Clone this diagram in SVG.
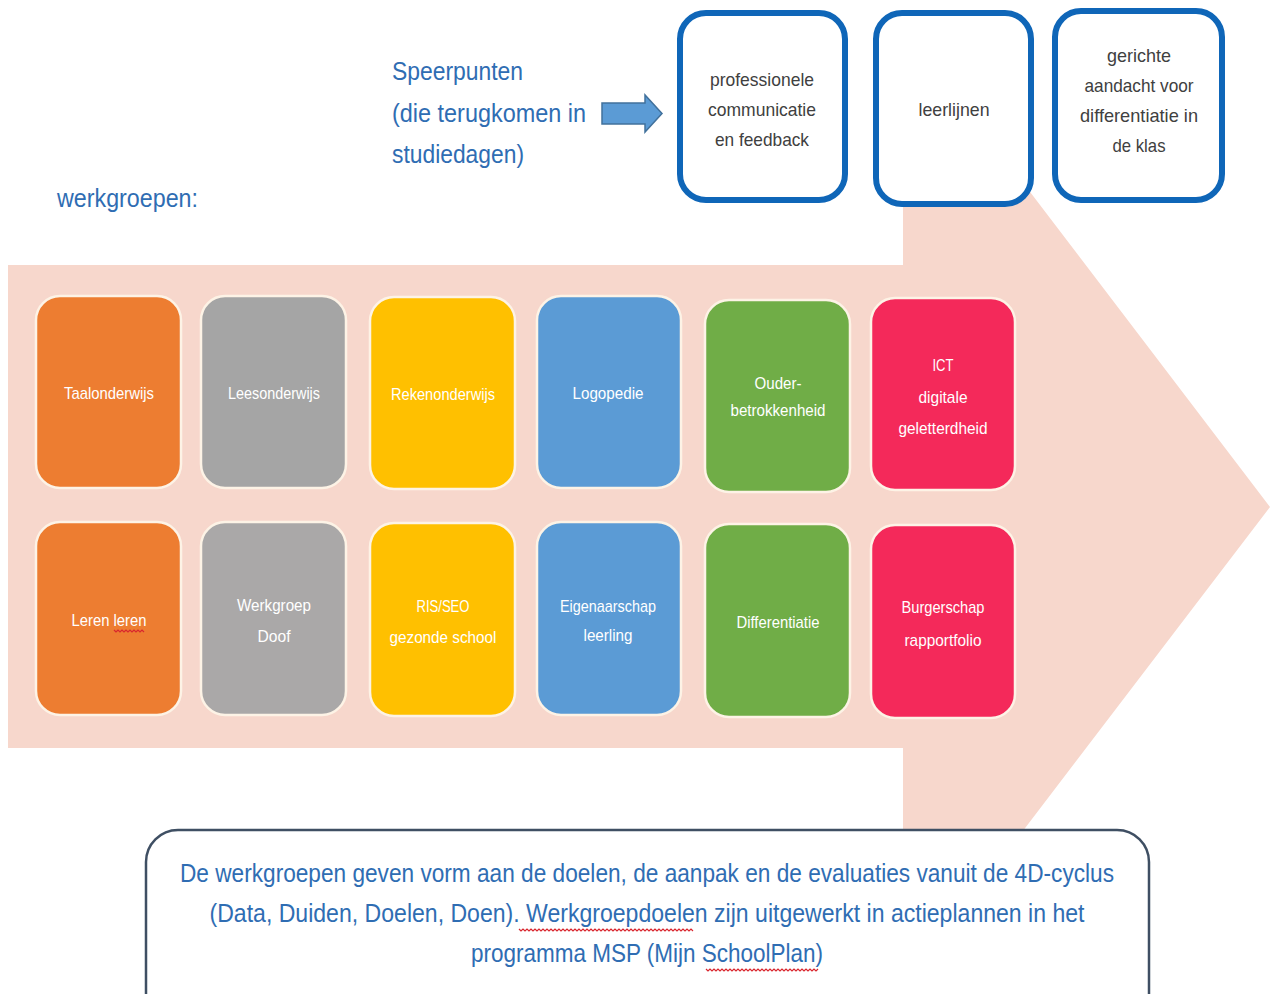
<svg xmlns="http://www.w3.org/2000/svg" width="1271" height="994" viewBox="0 0 1271 994">
<style>
.blue{font-family:"Liberation Sans",Arial,sans-serif;fill:#2f6db3;}
.big{font-size:26px;}
.top{font-family:"Liberation Sans",Arial,sans-serif;font-size:19px;fill:#404040;text-anchor:middle;}
.wg{font-family:"Liberation Sans",Arial,sans-serif;font-size:17px;fill:#ffffff;text-anchor:middle;}
.sp{fill:#ffffff;stroke:#0f66b8;stroke-width:6;}
.card{stroke:#fdf3e6;stroke-width:2.5;}
.wavy{fill:none;stroke:#d9262e;stroke-width:1.2;}
</style>
<rect width="1271" height="994" fill="#ffffff"/>
<polygon points="8,265 903,265 903,25 1270,507 903,988 903,748 8,748" fill="#f7d7cc"/>

<g id="title-speerpunten">
<text class="blue big" x="392" y="80" textLength="131" lengthAdjust="spacingAndGlyphs">Speerpunten</text>
<text class="blue big" x="392" y="122" textLength="194" lengthAdjust="spacingAndGlyphs">(die terugkomen in</text>
<text class="blue big" x="392" y="163" textLength="132" lengthAdjust="spacingAndGlyphs">studiedagen)</text>
</g>
<g id="title-werkgroepen">
<text class="blue big" x="57" y="207" textLength="141" lengthAdjust="spacingAndGlyphs">werkgroepen:</text>
</g>

<g id="connectors">
<polygon points="602,103 645,103 645,95 662,113.5 645,132 645,124 602,124" fill="#5b9bd5" stroke="#41719c" stroke-width="1.5"/>
</g>

<g id="sp1">
<rect class="sp" x="680" y="13" width="165" height="187" rx="26"/>
<text class="top" x="762" y="86" textLength="104" lengthAdjust="spacingAndGlyphs">professionele</text>
<text class="top" x="762" y="116" textLength="108" lengthAdjust="spacingAndGlyphs">communicatie</text>
<text class="top" x="762" y="146" textLength="94" lengthAdjust="spacingAndGlyphs">en feedback</text>
</g>
<g id="sp2">
<rect class="sp" x="876" y="13" width="155" height="191" rx="26"/>
<text class="top" x="954" y="116" textLength="71" lengthAdjust="spacingAndGlyphs">leerlijnen</text>
</g>
<g id="sp3">
<rect class="sp" x="1055" y="11" width="167" height="189" rx="26"/>
<text class="top" x="1139" y="62" textLength="64" lengthAdjust="spacingAndGlyphs">gerichte</text>
<text class="top" x="1139" y="92" textLength="109" lengthAdjust="spacingAndGlyphs">aandacht voor</text>
<text class="top" x="1139" y="122" textLength="118" lengthAdjust="spacingAndGlyphs">differentiatie in</text>
<text class="top" x="1139" y="152" textLength="53" lengthAdjust="spacingAndGlyphs">de klas</text>
</g>

<g id="wg-taalonderwijs">
<rect class="card" x="36" y="296" width="145" height="192" rx="24" fill="#ed7d31"/>
<text class="wg" x="109" y="399" textLength="90" lengthAdjust="spacingAndGlyphs">Taalonderwijs</text>
</g>
<g id="wg-leesonderwijs">
<rect class="card" x="201" y="296" width="145" height="192" rx="24" fill="#a5a5a5"/>
<text class="wg" x="274" y="399" textLength="92" lengthAdjust="spacingAndGlyphs">Leesonderwijs</text>
</g>
<g id="wg-rekenonderwijs">
<rect class="card" x="370" y="297" width="145" height="192" rx="24" fill="#ffc000"/>
<text class="wg" x="443" y="400" textLength="104" lengthAdjust="spacingAndGlyphs">Rekenonderwijs</text>
</g>
<g id="wg-logopedie">
<rect class="card" x="537" y="296" width="144" height="192" rx="24" fill="#5b9bd5"/>
<text class="wg" x="608" y="399" textLength="71" lengthAdjust="spacingAndGlyphs">Logopedie</text>
</g>
<g id="wg-ouder">
<rect class="card" x="705" y="300" width="145" height="192" rx="24" fill="#70ad47"/>
<text class="wg" x="778" y="389" textLength="47" lengthAdjust="spacingAndGlyphs">Ouder-</text>
<text class="wg" x="778" y="416" textLength="95" lengthAdjust="spacingAndGlyphs">betrokkenheid</text>
</g>
<g id="wg-ict">
<rect class="card" x="871" y="298" width="144" height="192" rx="24" fill="#f4295a"/>
<text class="wg" x="943" y="371" textLength="21" lengthAdjust="spacingAndGlyphs">ICT</text>
<text class="wg" x="943" y="403" textLength="49" lengthAdjust="spacingAndGlyphs">digitale</text>
<text class="wg" x="943" y="434" textLength="89" lengthAdjust="spacingAndGlyphs">geletterdheid</text>
</g>

<g id="wg-leren">
<rect class="card" x="36" y="522" width="145" height="193" rx="24" fill="#ed7d31"/>
<text class="wg" x="109" y="626" textLength="75" lengthAdjust="spacingAndGlyphs">Leren leren</text>
<path class="wavy" d="M114,630 l2,2 l2,-2 l2,2 l2,-2 l2,2 l2,-2 l2,2 l2,-2 l2,2 l2,-2 l2,2 l2,-2 l2,2 l2,-2 l2,2"/>
</g>
<g id="wg-doof">
<rect class="card" x="201" y="522" width="145" height="193" rx="24" fill="#aaa8a8"/>
<text class="wg" x="274" y="611" textLength="74" lengthAdjust="spacingAndGlyphs">Werkgroep</text>
<text class="wg" x="274" y="642" textLength="33" lengthAdjust="spacingAndGlyphs">Doof</text>
</g>
<g id="wg-ris">
<rect class="card" x="370" y="523" width="145" height="193" rx="24" fill="#ffc000"/>
<text class="wg" x="443" y="612" textLength="53" lengthAdjust="spacingAndGlyphs">RIS/SEO</text>
<text class="wg" x="443" y="643" textLength="107" lengthAdjust="spacingAndGlyphs">gezonde school</text>
</g>
<g id="wg-eigenaarschap">
<rect class="card" x="537" y="522" width="144" height="193" rx="24" fill="#5b9bd5"/>
<text class="wg" x="608" y="612" textLength="96" lengthAdjust="spacingAndGlyphs">Eigenaarschap</text>
<text class="wg" x="608" y="641" textLength="49" lengthAdjust="spacingAndGlyphs">leerling</text>
</g>
<g id="wg-differentiatie">
<rect class="card" x="705" y="524" width="145" height="193" rx="24" fill="#70ad47"/>
<text class="wg" x="778" y="628" textLength="83" lengthAdjust="spacingAndGlyphs">Differentiatie</text>
</g>
<g id="wg-burgerschap">
<rect class="card" x="871" y="525" width="144" height="193" rx="24" fill="#f4295a"/>
<text class="wg" x="943" y="613" textLength="83" lengthAdjust="spacingAndGlyphs">Burgerschap</text>
<text class="wg" x="943" y="646" textLength="77" lengthAdjust="spacingAndGlyphs">rapportfolio</text>
</g>

<g id="note">
<rect x="146" y="830" width="1003" height="200" rx="32" fill="#ffffff" stroke="#3f4f63" stroke-width="2.5"/>
<text class="blue big" x="647" y="882" text-anchor="middle" textLength="934" lengthAdjust="spacingAndGlyphs">De werkgroepen geven vorm aan de doelen, de aanpak en de evaluaties vanuit de 4D-cyclus</text>
<text class="blue big" x="647" y="922" text-anchor="middle" textLength="875" lengthAdjust="spacingAndGlyphs">(Data, Duiden, Doelen, Doen). Werkgroepdoelen zijn uitgewerkt in actieplannen in het</text>
<text class="blue big" x="647" y="962" text-anchor="middle" textLength="352" lengthAdjust="spacingAndGlyphs">programma MSP (Mijn SchoolPlan)</text>
<path class="wavy" d="M519,929 l2,2 l2,-2 l2,2 l2,-2 l2,2 l2,-2 l2,2 l2,-2 l2,2 l2,-2 l2,2 l2,-2 l2,2 l2,-2 l2,2 l2,-2 l2,2 l2,-2 l2,2 l2,-2 l2,2 l2,-2 l2,2 l2,-2 l2,2 l2,-2 l2,2 l2,-2 l2,2 l2,-2 l2,2 l2,-2 l2,2 l2,-2 l2,2 l2,-2 l2,2 l2,-2 l2,2 l2,-2 l2,2 l2,-2 l2,2 l2,-2 l2,2 l2,-2 l2,2 l2,-2 l2,2 l2,-2 l2,2 l2,-2 l2,2 l2,-2 l2,2 l2,-2 l2,2 l2,-2 l2,2 l2,-2 l2,2 l2,-2 l2,2 l2,-2 l2,2 l2,-2 l2,2 l2,-2 l2,2 l2,-2 l2,2 l2,-2 l2,2 l2,-2 l2,2 l2,-2 l2,2 l2,-2 l2,2 l2,-2 l2,2 l2,-2 l2,2 l2,-2 l2,2 l2,-2 l2,2"/>
<path class="wavy" d="M706,969 l2,2 l2,-2 l2,2 l2,-2 l2,2 l2,-2 l2,2 l2,-2 l2,2 l2,-2 l2,2 l2,-2 l2,2 l2,-2 l2,2 l2,-2 l2,2 l2,-2 l2,2 l2,-2 l2,2 l2,-2 l2,2 l2,-2 l2,2 l2,-2 l2,2 l2,-2 l2,2 l2,-2 l2,2 l2,-2 l2,2 l2,-2 l2,2 l2,-2 l2,2 l2,-2 l2,2 l2,-2 l2,2 l2,-2 l2,2 l2,-2 l2,2 l2,-2 l2,2 l2,-2 l2,2 l2,-2 l2,2 l2,-2 l2,2 l2,-2 l2,2 l2,-2"/>
</g>
</svg>
